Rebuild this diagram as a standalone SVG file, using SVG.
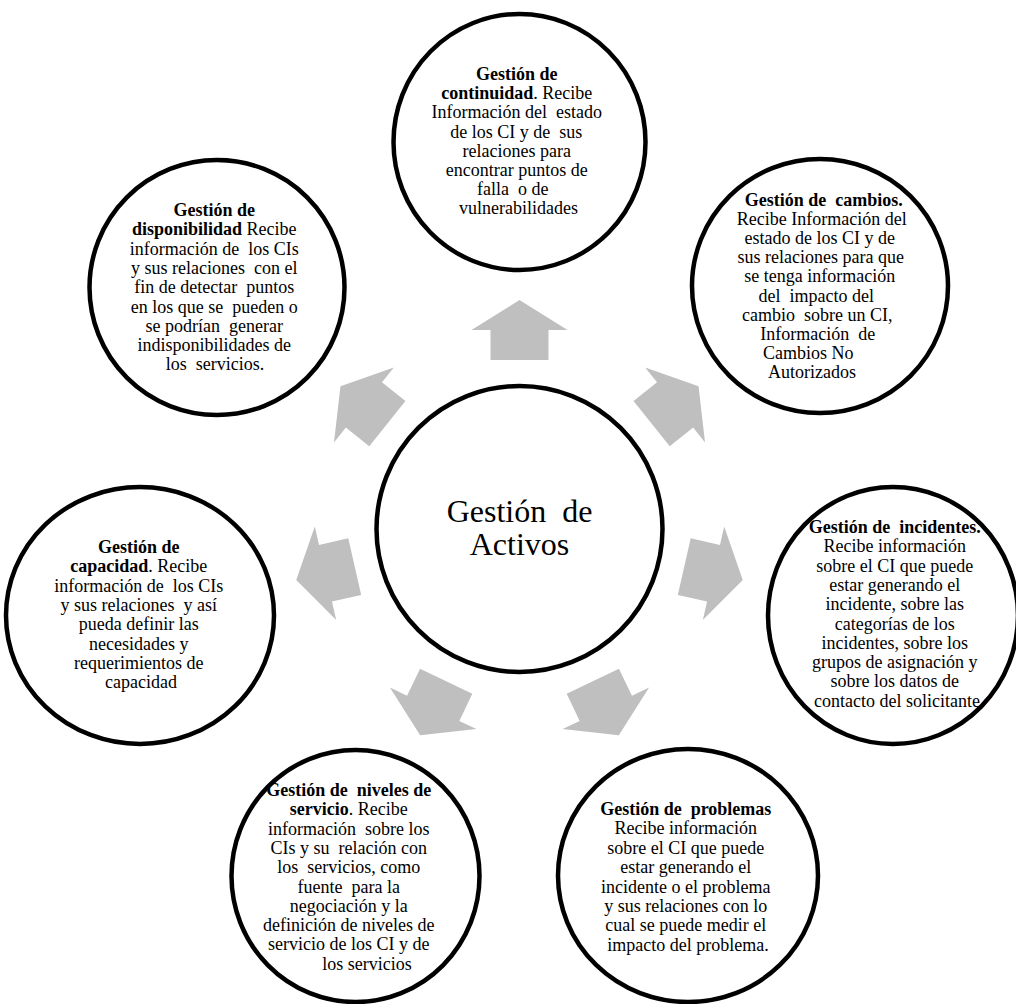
<svg xmlns="http://www.w3.org/2000/svg" xmlns:xlink="http://www.w3.org/1999/xlink" width="1016" height="1004" viewBox="0 0 1016 1004">
  <style>
    .ring { fill: #ffffff; stroke: #000000; stroke-width: 4.5; }
    .txt { font-family: "Liberation Serif", "Times New Roman", serif; font-size: 18px; fill: #000000; text-anchor: middle; }
    .b { font-weight: bold; }
    .core { font-family: "Liberation Serif", "Times New Roman", serif; font-size: 32px; fill: #000000; text-anchor: middle; }
    .arrow { fill: #bfbfbf; stroke: none; }
  </style>
  <defs>
    <!-- block arrow pointing up, hub-relative coordinates -->
    <polygon id="blockArrow" class="arrow" points="0,-229 48,-199 29,-199 29,-169 -29,-169 -29,-199 -48,-199"/>
  </defs>

  <rect x="0" y="0" width="1016" height="1004" fill="#ffffff"/>

  <!-- outward arrows from the hub to each process -->
  <g id="connectors" transform="translate(519.5 529)">
    <use xlink:href="#blockArrow" href="#blockArrow" transform="rotate(0)"/>
    <use xlink:href="#blockArrow" href="#blockArrow" transform="rotate(51.43)"/>
    <use xlink:href="#blockArrow" href="#blockArrow" transform="rotate(102.86)"/>
    <use xlink:href="#blockArrow" href="#blockArrow" transform="rotate(154.29)"/>
    <use xlink:href="#blockArrow" href="#blockArrow" transform="rotate(205.71)"/>
    <use xlink:href="#blockArrow" href="#blockArrow" transform="rotate(257.14)"/>
    <use xlink:href="#blockArrow" href="#blockArrow" transform="rotate(308.57)"/>
  </g>

  <!-- hub -->
  <g id="n-activos">
    <circle class="ring" cx="519.5" cy="529" r="143"/>
    <text class="core" x="519.5" y="522">Gestión &#160;de</text>
    <text class="core" x="519.5" y="555">Activos</text>
  </g>

  <g id="n-continuidad">
    <ellipse class="ring" cx="519.5" cy="142" rx="126" ry="128"/>
    <text class="txt">
      <tspan x="519" y="80" class="b">Gestión de</tspan>
      <tspan x="519" y="99.2"><tspan class="b">continuidad</tspan>. Recibe</tspan>
      <tspan x="519" y="118.4">Información del &#160;estado</tspan>
      <tspan x="518.5" y="137.6">de los CI y de &#160;sus</tspan>
      <tspan x="519" y="156.8">relaciones para</tspan>
      <tspan x="519" y="176">encontrar puntos de</tspan>
      <tspan x="515" y="195.2">falla &#160;o de</tspan>
      <tspan x="518.5" y="214.4">vulnerabilidades</tspan>
    </text>
  </g>

  <g id="n-disponibilidad">
    <ellipse class="ring" cx="217" cy="287.5" rx="127.5" ry="127.5"/>
    <text class="txt">
      <tspan x="216.5" y="216" class="b">Gestión de</tspan>
      <tspan x="216.5" y="235.3"><tspan class="b">disponibilidad</tspan> Recibe</tspan>
      <tspan x="216.5" y="254.6">información de &#160;los CIs</tspan>
      <tspan x="216.5" y="273.9">y sus relaciones &#160;con el</tspan>
      <tspan x="216.5" y="293.2">fin de detectar &#160;puntos</tspan>
      <tspan x="216.5" y="312.5">en los que se &#160;pueden o</tspan>
      <tspan x="216.5" y="331.8">se podrían &#160;generar</tspan>
      <tspan x="216.5" y="351.1">indisponibilidades de</tspan>
      <tspan x="215" y="370.4">los &#160;servicios.</tspan>
    </text>
  </g>

  <g id="n-cambios">
    <ellipse class="ring" cx="820" cy="286" rx="128" ry="127"/>
    <text class="txt">
      <tspan x="826" y="206" class="b">Gestión de &#160;cambios.</tspan>
      <tspan x="824" y="225.1">Recibe Información del</tspan>
      <tspan x="822" y="244.2">estado de los CI y de</tspan>
      <tspan x="823" y="263.3">sus relaciones para que</tspan>
      <tspan x="822" y="282.4">se tenga información</tspan>
      <tspan x="818.5" y="301.5">del &#160;impacto del</tspan>
      <tspan x="819.5" y="320.6">cambio &#160;sobre un CI,</tspan>
      <tspan x="820" y="339.7">Información &#160;de</tspan>
      <tspan x="810.5" y="358.8">Cambios No</tspan>
      <tspan x="812" y="377.9">Autorizados</tspan>
    </text>
  </g>

  <g id="n-incidentes">
    <ellipse class="ring" cx="893" cy="615.5" rx="125" ry="128.5"/>
    <text class="txt">
      <tspan x="897" y="533" class="b">Gestión de &#160;incidentes.</tspan>
      <tspan x="897" y="552.3">Recibe información</tspan>
      <tspan x="897" y="571.6">sobre el CI que puede</tspan>
      <tspan x="897" y="590.9">estar generando el</tspan>
      <tspan x="897" y="610.2">incidente, sobre las</tspan>
      <tspan x="897" y="629.5">categorías de los</tspan>
      <tspan x="897" y="648.8">incidentes, sobre los</tspan>
      <tspan x="897" y="668.1">grupos de asignación y</tspan>
      <tspan x="897" y="687.4">sobre los datos de</tspan>
      <tspan x="897" y="706.7">contacto del solicitante</tspan>
    </text>
  </g>

  <g id="n-capacidad">
    <ellipse class="ring" cx="140" cy="615.5" rx="134" ry="128.5"/>
    <text class="txt">
      <tspan x="141" y="553" class="b">Gestión de</tspan>
      <tspan x="141" y="572.3"><tspan class="b">capacidad</tspan>. Recibe</tspan>
      <tspan x="141" y="591.6">información de &#160;los CIs</tspan>
      <tspan x="141" y="610.9">y sus relaciones &#160;y así</tspan>
      <tspan x="141" y="630.2">pueda definir las</tspan>
      <tspan x="141" y="649.5">necesidades y</tspan>
      <tspan x="141" y="668.8">requerimientos de</tspan>
      <tspan x="141" y="688.1">capacidad</tspan>
    </text>
  </g>

  <g id="n-niveles">
    <ellipse class="ring" cx="355.5" cy="876" rx="124" ry="126"/>
    <text class="txt">
      <tspan x="351" y="796" class="b">Gestión de &#160;niveles de</tspan>
      <tspan x="351" y="815.3"><tspan class="b">servicio</tspan>. Recibe</tspan>
      <tspan x="351" y="834.6">información &#160;sobre los</tspan>
      <tspan x="351" y="853.9">CIs y su &#160;relación con</tspan>
      <tspan x="351" y="873.2">los &#160;servicios, como</tspan>
      <tspan x="351" y="892.5">fuente &#160;para la</tspan>
      <tspan x="351" y="911.8">negociación y la</tspan>
      <tspan x="351" y="931.1">definición de niveles de</tspan>
      <tspan x="351" y="950.4">servicio de los CI y de</tspan>
      <tspan x="367" y="969.7">los servicios</tspan>
    </text>
  </g>

  <g id="n-problemas">
    <ellipse class="ring" cx="688" cy="875.5" rx="130" ry="126.5"/>
    <text class="txt">
      <tspan x="688" y="815" class="b">Gestión de &#160;problemas</tspan>
      <tspan x="688" y="834.4">Recibe información</tspan>
      <tspan x="688" y="853.8">sobre el CI que puede</tspan>
      <tspan x="688" y="873.2">estar generando el</tspan>
      <tspan x="688" y="892.6">incidente o el problema</tspan>
      <tspan x="688" y="912">y sus relaciones con lo</tspan>
      <tspan x="688" y="931.4">cual se puede medir el</tspan>
      <tspan x="688" y="950.8">impacto del problema.</tspan>
    </text>
  </g>
</svg>
